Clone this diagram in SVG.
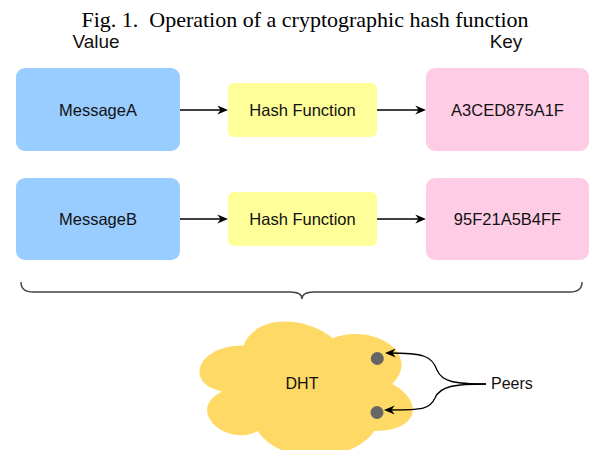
<svg xmlns="http://www.w3.org/2000/svg" width="591" height="450" viewBox="0 0 591 450">
  <style>
    .title { font-family: "Liberation Serif", "Times New Roman", serif; font-size: 22px; fill: #000; }
    .label { font-family: "Liberation Sans", Arial, Helvetica, sans-serif; fill: #111; }
    .head { font-size: 19px; }
    .box-text { font-size: 16.5px; }
    .small-text { font-size: 16px; }
    .value { fill: #99CCFF; }
    .hash { fill: #FFFF99; }
    .key { fill: #FFCCE6; }
    .edge { fill: none; stroke: #000; stroke-width: 1.3; }
    .brace { fill: none; stroke: #444; stroke-width: 1.4; }
  </style>
  <defs>
    <marker id="arrow" viewBox="0 0 10 10" refX="7" refY="5" markerWidth="11" markerHeight="11" markerUnits="userSpaceOnUse" orient="auto">
      <path d="M0,1 L10,5 L0,9 L3,5 Z" fill="#000"/>
    </marker>
  </defs>

  <rect width="591" height="450" fill="#fff"/>

  <text class="title" x="305" y="26.5" text-anchor="middle">Fig. 1.&#160; Operation of a cryptographic hash function</text>
  <text class="label head" x="96" y="47.5" text-anchor="middle">Value</text>
  <text class="label head" x="506" y="47.5" text-anchor="middle">Key</text>

  <!-- first row -->
  <g id="messageA">
    <rect class="value" x="16" y="68" width="164" height="83" rx="9"/>
    <text class="label box-text" x="98" y="115.5" text-anchor="middle">MessageA</text>
  </g>
  <g id="hashA">
    <rect class="hash" x="228" y="83" width="149" height="54" rx="6"/>
    <text class="label box-text" x="302.5" y="115.5" text-anchor="middle">Hash Function</text>
  </g>
  <g id="keyA">
    <rect class="key" x="426" y="68" width="163" height="83" rx="9"/>
    <text class="label box-text" x="507.5" y="115.5" text-anchor="middle">A3CED875A1F</text>
  </g>

  <!-- second row -->
  <g id="messageB">
    <rect class="value" x="16" y="178" width="164" height="82" rx="9"/>
    <text class="label box-text" x="98" y="224.5" text-anchor="middle">MessageB</text>
  </g>
  <g id="hashB">
    <rect class="hash" x="228" y="192" width="149" height="54" rx="6"/>
    <text class="label box-text" x="302.5" y="224.5" text-anchor="middle">Hash Function</text>
  </g>
  <g id="keyB">
    <rect class="key" x="426" y="178" width="163" height="82" rx="9"/>
    <text class="label box-text" x="507.5" y="224.5" text-anchor="middle">95F21A5B4FF</text>
  </g>

  <!-- curly brace gathering both rows -->
  <g id="brace">
    <path class="brace" d="M21,282 Q21,292 33,292 L290,292 Q302,292 302,299 Q302,292 314,292 L570,292 Q582,292 582,282"/>
  </g>

  <!-- DHT cloud with peers -->
  <g id="dht">
    <path fill="#FFD966" d="M243.5,345.5 C195.9,345.5 184,384 222.08,391.5 C184,410 226.84,448 257.78,431 C279.2,465 350.6,465 374.4,431 C422,431 422,399 392.25,384 C422,354 374.4,323 332.75,338 C303,315 255.4,315 243.5,345.5 Z"/>
    <text class="label small-text" x="302" y="389.3" text-anchor="middle">DHT</text>
  </g>
  <g id="peer1">
    <circle cx="377.3" cy="358.5" r="6.5" fill="#666"/>
  </g>
  <g id="peer2">
    <circle cx="377" cy="412.5" r="6.5" fill="#666"/>
  </g>
  <g id="peers-label">
    <text class="label small-text" x="491" y="389.3">Peers</text>
  </g>

  <!-- connectors -->
  <g id="connectors">
    <path class="edge" marker-end="url(#arrow)" d="M180,110 L225,110"/>
    <path class="edge" marker-end="url(#arrow)" d="M377,110 L423,110"/>
    <path class="edge" marker-end="url(#arrow)" d="M180,219 L225,219"/>
    <path class="edge" marker-end="url(#arrow)" d="M377,219 L423,219"/>
    <path class="edge" marker-end="url(#arrow)" d="M486,384 C455,384 442,382 437,370 C432,356 424,353 388,353"/>
    <path class="edge" marker-end="url(#arrow)" d="M486,384 C455,384 440,386 435,398 C430,409 424,410 387,410"/>
  </g>
</svg>
